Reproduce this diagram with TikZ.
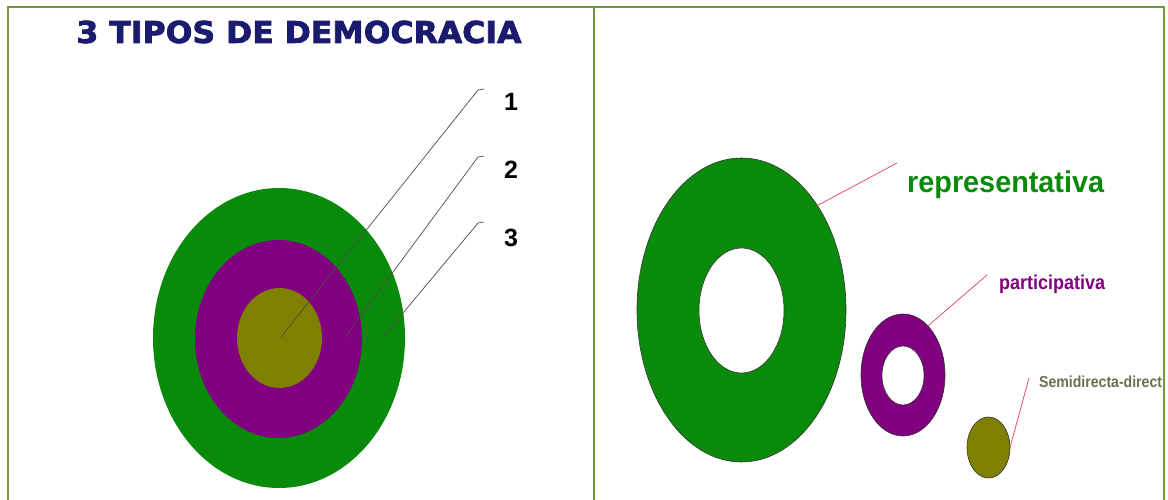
\documentclass[tikz,border=0pt]{standalone}
\usepackage{fontspec}
\setmainfont{Liberation Sans}
\newfontfamily\titlefont{DejaVu Sans}[FakeStretch=1.05, FakeBold=2.5]
\newfontfamily\repfont{Liberation Sans}[FakeStretch=0.96]
\newfontfamily\partfont{Liberation Sans}[FakeStretch=0.9]
\newfontfamily\semifont{Liberation Sans}[FakeStretch=0.88]
\usetikzlibrary{shapes.geometric}
\definecolor{frameg}{HTML}{77933C}
\definecolor{demgreen}{HTML}{0A8A0A}
\definecolor{dempurple}{HTML}{800080}
\definecolor{demolive}{HTML}{808000}
\definecolor{titleblue}{HTML}{1A1A6E}
\definecolor{leadred}{HTML}{E8506A}
\definecolor{semigray}{HTML}{6E6E50}
\tikzset{
  blob/.style={ellipse, inner sep=0pt, outer sep=0pt},
  leader/.style={draw=black!70, line width=0.7pt},
  redleader/.style={draw=leadred, line width=0.8pt},
  numlabel/.style={font=\fontsize{25}{25}\selectfont\bfseries, text=black, inner sep=0pt},
  framebar/.style={draw=frameg, line width=2.5pt},
}
\begin{document}
\begin{tikzpicture}[x=1pt,y=-1pt]
\useasboundingbox (0,0) rectangle (1168,500);
% title
\node[font=\titlefont\fontsize{30}{30}\selectfont\bfseries, text=titleblue, inner sep=0pt] (title) at (299,32) {3 TIPOS DE DEMOCRACIA};
% left concentric
\node[blob, fill=demgreen, minimum width=252pt, minimum height=300pt] (outer) at (279,338) {};
\node[blob, fill=dempurple, minimum width=167pt, minimum height=198pt] (middle) at (278.5,339) {};
\node[blob, fill=demolive, minimum width=85pt, minimum height=100pt] (inner) at (279.5,338) {};
\coordinate (p1) at (281,337);
\coordinate (p2) at (345,337);
\coordinate (p3) at (383,337);
\coordinate (t1) at (478,90);
\coordinate (t2) at (478,157);
\coordinate (t3) at (478,223);
\coordinate (e1) at (484,89);
\coordinate (e2) at (484,156);
\coordinate (e3) at (484,222);
\draw[leader] (p1) -- (t1) -- (e1);
\draw[leader] (p2) -- (t2) -- (e2);
\draw[leader] (p3) -- (t3) -- (e3);
\node[numlabel] (n1) at (511,102) {1};
\node[numlabel] (n2) at (511,170) {2};
\node[numlabel] (n3) at (511,238) {3};
% right: representativa
\node[blob, fill=demgreen, draw=black!80, line width=0.6pt, minimum width=209pt, minimum height=304pt] (rep) at (741.5,310) {};
\node[blob, fill=white, draw=black!80, line width=0.6pt, minimum width=85pt, minimum height=125pt] (rephole) at (741.5,310.5) {};
\node[font=\repfont\fontsize{30}{30}\selectfont\bfseries, text=demgreen, inner sep=0pt, anchor=west] (reptxt) at (907,185) {representativa};
\coordinate (repend) at (897,163);
\draw[redleader] (rep.54) -- (repend);
% participativa
\node[blob, fill=dempurple, draw=black!80, line width=0.6pt, minimum width=84pt, minimum height=122pt] (part) at (903,375) {};
\node[blob, fill=white, draw=black!80, line width=0.6pt, minimum width=42pt, minimum height=59pt] (parthole) at (903,375.5) {};
\node[font=\partfont\fontsize{20}{20}\selectfont\bfseries, text=dempurple, inner sep=0pt, anchor=west] (parttxt) at (999,284) {participativa};
\coordinate (partend) at (987,275);
\draw[redleader] (part.63) -- (partend);
% semidirecta
\node[blob, fill=demolive, draw=black!80, line width=0.6pt, minimum width=43pt, minimum height=61pt] (semi) at (988.5,447.5) {};
\node[font=\semifont\fontsize{16}{16}\selectfont\bfseries, text=semigray, inner sep=0pt, anchor=west] (semitxt) at (1039,382) {Semidirecta-direct};
\coordinate (semiend) at (1029,378);
\draw[redleader] (semi.east) -- (semiend);
% frame
\fill[white] (1165.3,0) rectangle (1168,500);
\draw[framebar] (8,502) -- (8,7) -- (1164,7) -- (1164,502);
\draw[framebar] (594,7) -- (594,502);
\end{tikzpicture}
\end{document}
